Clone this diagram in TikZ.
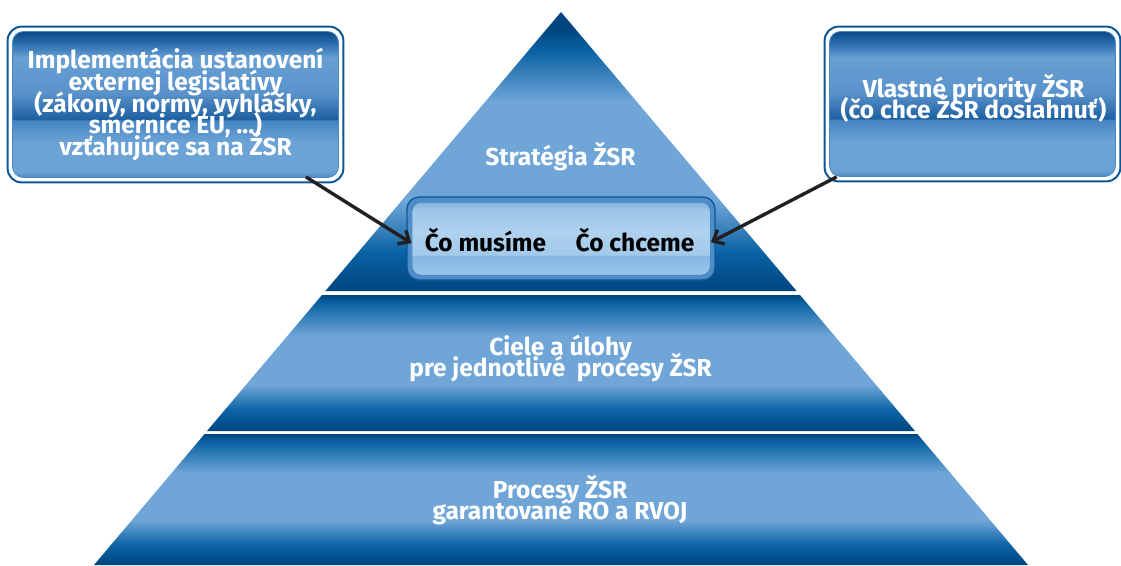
\documentclass[tikz,border=0pt]{standalone}
\usepackage{fontspec}
\setmainfont{Fira Sans}
\usetikzlibrary{arrows.meta}
\definecolor{dk}{HTML}{00457F}
\definecolor{md}{HTML}{0A63A4}
\definecolor{lt}{HTML}{6FA5D7}
\definecolor{gA}{HTML}{084886}
\definecolor{gB}{HTML}{2A6CAD}
\definecolor{gC}{HTML}{68A0D4}
\definecolor{gD}{HTML}{5A93CB}
\definecolor{gE}{HTML}{1D60A2}
\definecolor{gF}{HTML}{4585C2}
\definecolor{gG}{HTML}{6CA3D6}
\definecolor{gH}{HTML}{4C8AC5}
\definecolor{pA}{HTML}{80B2DF}
\definecolor{pB}{HTML}{9DC6EA}
\definecolor{pC}{HTML}{AED1EE}
\definecolor{pD}{HTML}{A3CAEB}
\definecolor{pE}{HTML}{86B8E3}
\definecolor{pF}{HTML}{99C5E9}
\definecolor{bordk}{HTML}{0D5796}
\definecolor{borlt}{HTML}{4A87C2}
\definecolor{ring}{HTML}{4F8DC8}
\definecolor{arrowc}{HTML}{231F20}
\pgfdeclareverticalshading{tier}{100bp}{color(0bp)=(dk); color(25bp)=(dk); color(32.5bp)=(md); color(42bp)=(lt); color(60bp)=(lt); color(72bp)=(md); color(75bp)=(dk); color(100bp)=(dk)}
\pgfdeclareverticalshading{tri}{100bp}{color(0bp)=(dk); color(25bp)=(dk); color(32bp)=(md); color(41bp)=(lt); color(59bp)=(lt); color(68bp)=(md); color(72bp)=(dk); color(100bp)=(dk)}
\pgfdeclareverticalshading{gloss}{100bp}{color(0bp)=(gH); color(25bp)=(gH); color(27bp)=(gG); color(37bp)=(gG); color(44.5bp)=(gF); color(45bp)=(gE); color(54bp)=(gD); color(66bp)=(gC); color(71bp)=(gB); color(75bp)=(gA); color(100bp)=(gA)}
\pgfdeclareverticalshading{pale}{100bp}{color(0bp)=(pF); color(25bp)=(pF); color(37bp)=(pE); color(38.5bp)=(pE); color(39bp)=(pD); color(55bp)=(pC); color(70bp)=(pB); color(75bp)=(pA); color(100bp)=(pA)}
\newcommand{\boxfont}{\bfseries\fontsize{24.5}{21.7}\selectfont\lineskiplimit=-100pt\lineskip=0pt}
\tikzset{
  wtxt/.style={text=white, font=\boxfont, align=center, inner sep=0pt},
  btxt/.style={text=black, font=\boxfont, inner sep=0pt},
  glossbox/.style={draw=borlt, line width=0.8pt, rounded corners=11pt, shading=gloss},
  outerb/.style={draw=bordk, line width=2pt, rounded corners=14pt},
  palebox/.style={draw=borlt, line width=0.9pt, rounded corners=9pt, shading=pale},
  ringb/.style={draw=bordk, line width=1.3pt, fill=ring, rounded corners=12pt},
  arr/.style={draw=arrowc, line width=3.4pt, -{Straight Barb[length=9pt,width=16pt]}}
}
\begin{document}
\begin{tikzpicture}[x=1pt,y=-1pt]
\useasboundingbox (0,0) rectangle (1121,565);
% pyramid
\shade[shading=tri] (561,12) -- (796.6,291) -- (325.4,291) -- cycle;
\shade[shading=tier] (322,295) -- (800,295) -- (915,431) -- (207,431) -- cycle;
\shade[shading=tier] (204.6,434) -- (917.4,434) -- (1028,565) -- (94,565) -- cycle;
% tier labels
\node[wtxt] (strat) at (560.5,157) {Stratégia ŽSR};
\node[wtxt] (ciele) at (560.5,358.5) {Ciele a úlohy\\pre jednotlivé\ \ procesy ŽSR};
\node[wtxt] (proc) at (560,500) {Procesy ŽSR\\garantované RO a RVOJ};
% center box
\draw[ringb] (407,197) rectangle (715,280);
\node[palebox, minimum width=298.5pt, minimum height=73pt] (cbox) at (561.2,238.7) {};
\node[btxt] (musime) at (485.5,240) {Čo musíme};
\node[btxt] (chceme) at (635,240) {Čo chceme};
% left box
\node[glossbox, minimum width=326pt, minimum height=146pt] (lbox) at (175.5,104.5) {};
\node[wtxt] (ltext) at (175.5,104.5) {Implementácia ustanovení\\externej legislatívy\\(zákony, normy, vyhlášky,\\smernice EÚ, ...)\\vzťahujúce sa na ŽSR};
\draw[outerb] ([xshift=-4.5pt,yshift=4.5pt]lbox.north west) rectangle ([xshift=4.5pt,yshift=-4.5pt]lbox.south east);
% right box
\node[glossbox, minimum width=286pt, minimum height=145pt] (rbox) at (972.5,104) {};
\node[wtxt] (rtext) at (973.5,98.5) {Vlastné priority ŽSR\\(čo chce ŽSR dosiahnuť)};
\draw[outerb] ([xshift=-4.5pt,yshift=4.5pt]rbox.north west) rectangle ([xshift=4.5pt,yshift=-4.5pt]rbox.south east);
% arrows
\draw[arr] ([xshift=-33pt,yshift=1pt]lbox.south east) -- ([yshift=-4.5pt]cbox.west);
\draw[arr] ([xshift=7.5pt]rbox.south west) -- ([yshift=-3.5pt]cbox.east);
\end{tikzpicture}
\end{document}
